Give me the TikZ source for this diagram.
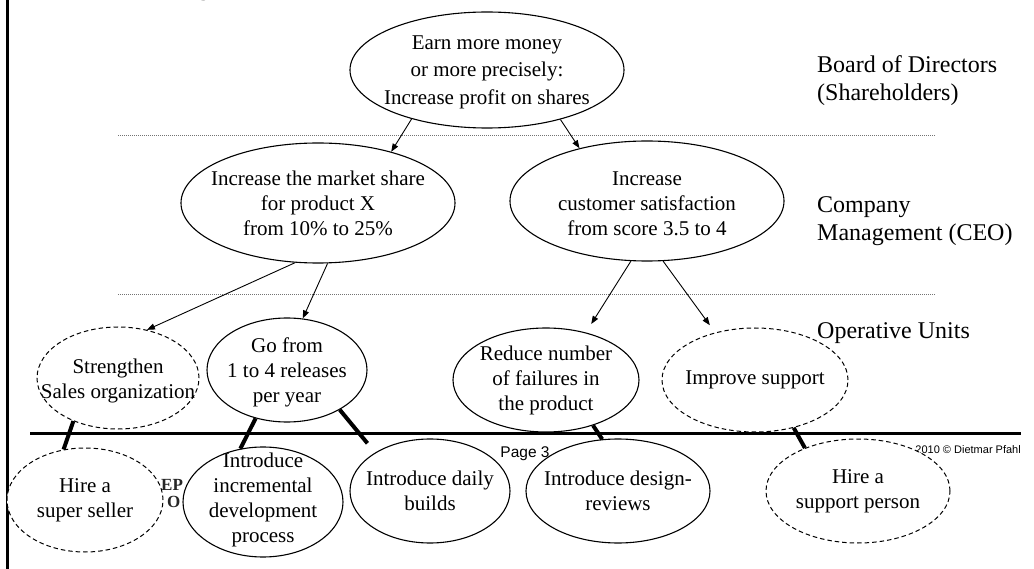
\documentclass[tikz,border=0pt]{standalone}
\usepackage{fontspec}
\setmainfont{Liberation Serif}
\newfontfamily\footfont{Liberation Sans}
\usetikzlibrary{shapes.geometric,arrows.meta}

\begin{document}
\begin{tikzpicture}[x=1pt,y=-1pt,
  goal/.style={ellipse, draw, fill=white, line width=1.1pt, inner sep=0pt},
  optional/.style={goal, line width=1pt, dash pattern=on 4.5pt off 3pt},
  gtext/.style={align=center, inner sep=0pt, font=\fontsize{21}{25}\selectfont},
  level/.style={anchor=west, align=left, inner sep=0pt, font=\fontsize{24}{28}\selectfont},
  refines/.style={line width=0.9pt, -{Triangle[length=8pt,width=6pt]}},
  link/.style={line width=4pt},
  divider/.style={black!55, line width=0.9pt, dash pattern=on 1pt off 1pt},
  frame/.style={line width=3pt},
  logo/.style={font=\bfseries\fontsize{17}{19}\selectfont, anchor=base west, inner sep=0pt, text=black!85},
]
\useasboundingbox (0,0) rectangle (1034,569);
\fill[white] (0,0) rectangle (1034,569);

% slide frame, layer dividers and the boundary of the operative layer
\draw[frame] (7.5,0) -- (7.5,569);
\draw[divider] (118,135) -- (935,135);
\draw[divider] (118,294) -- (935,294);
\draw[frame] (30,433) -- (1021,433);

% slide furniture behind the goal ellipses
\node[font=\footfont\bfseries\fontsize{30}{30}\selectfont, anchor=base, inner sep=0pt] (titletail) at (208,-5) {y};
\node[font=\footfont\fontsize{11}{13}\selectfont, anchor=base east, inner sep=0pt] (footer) at (1021,453) {2010 © Dietmar Pfahl};
\node[font=\footfont\fontsize{15.5}{18}\selectfont, anchor=base, inner sep=0pt] (page) at (525,457) {Page 3};
\node[logo] (logoA) at (161,490) {EP};
\node[logo] (logoB) at (167,507) {O};

% organisational levels
\node[level] (board) at (817,81) {Board of Directors\\(Shareholders)};
\node[level] (mgmt) at (817,221) {Company\\Management (CEO)};
\node[level] (ops) at (817,333) {Operative Units};

% top goal
\node[goal, minimum width=274pt, minimum height=116pt] (T) at (487,70) {};
\node[gtext, font=\fontsize{21}{27.5}\selectfont] (Tt) at ([yshift=-2pt]T.center) {Earn more money\\or more precisely:\\Increase profit on shares};

% management goals
\node[goal, minimum width=274pt, minimum height=120pt] (M) at (318,203) {};
\node[gtext] (Mt) at (M) {Increase the market share\\for product X\\from 10\% to 25\%};
\node[goal, minimum width=274pt, minimum height=120pt] (C) at (647,201) {};
\node[gtext] (Ct) at ([yshift=-3pt]C.center) {Increase\\customer satisfaction\\from score 3.5 to 4};

% operative goals
\node[optional, minimum width=162pt, minimum height=102pt] (S) at (118,378) {};
\node[gtext] (St) at ([yshift=-3pt]S.center) {Strengthen\\Sales organization};
\node[goal, minimum width=160pt, minimum height=104pt] (G) at (287,370) {};
\node[gtext] (Gt) at ([yshift=-2pt]G.center) {Go from\\1 to 4 releases\\per year};
\node[goal, minimum width=186pt, minimum height=104pt] (R) at (546,380) {};
\node[gtext] (Rt) at (R) {Reduce number\\of failures in\\the product};
\node[optional, minimum width=186pt, minimum height=104pt] (I) at (755,380) {};
\node[gtext] (It) at (I) {Improve support};

% measures
\node[optional, minimum width=156pt, minimum height=104pt] (H) at (85,500) {};
\node[gtext] (Ht) at (H) {Hire a\\super seller};
\node[goal, minimum width=160pt, minimum height=110pt] (N) at (263,502) {};
\node[gtext] (Nt) at ([yshift=2pt]N.center) {Introduce\\incremental\\development\\process};
\node[goal, minimum width=160pt, minimum height=104pt] (D) at (430,491) {};
\node[gtext] (Dt) at (D) {Introduce daily\\builds};
\node[goal, minimum width=184pt, minimum height=104pt] (E) at (618,491) {};
\node[gtext] (Et) at (E) {Introduce design-\\reviews};
\node[optional, minimum width=184pt, minimum height=104pt] (P) at (858,491) {};
\node[gtext] (Pt) at (P) {Hire a\\support person};

% refinement arrows
\draw[refines] (T.213) -- (M.35);
\draw[refines] (T.-34) -- (C.142);
\draw[refines] (M.-111) -- (S.59);
\draw[refines] (M.-81) -- (G.73);
\draw[refines, shorten >=10pt] (C.-105) -- (R.50);
\draw[refines, shorten >=9pt] (C.-75) -- (I.130);

% goals realised by measures
\draw[link] (S.-136) -- (H.113);
\draw[link] (G.-123) -- (N.113);
\draw[link, shorten >=12pt] (G.-37) -- (D.145);
\draw[link] (R.-44) -- (E.107);
\draw[link] (I.-51) -- (P.141);
\end{tikzpicture}
\end{document}
